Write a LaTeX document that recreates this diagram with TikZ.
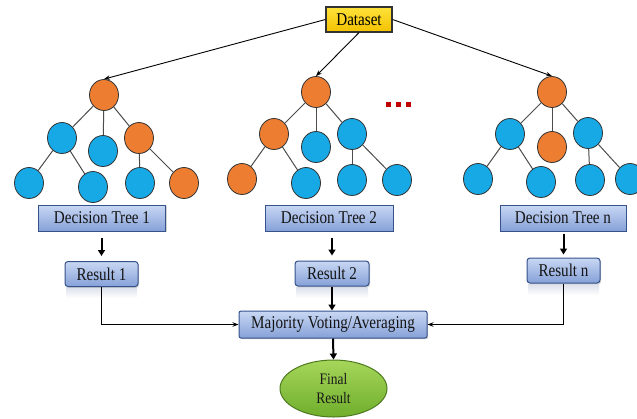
\documentclass[tikz,border=0pt]{standalone}
\usepackage{fontspec}
\setmainfont{Liberation Serif}[FakeStretch=0.84]
\usetikzlibrary{arrows.meta,shadows,shapes.geometric}
\definecolor{orng}{HTML}{ED7D31}
\definecolor{blu}{HTML}{16A9E6}
\definecolor{boxtop}{HTML}{C8D7F3}
\definecolor{boxbot}{HTML}{86A1D8}
\definecolor{boxdraw}{HTML}{36528A}
\definecolor{ylwtop}{HTML}{FFE23A}
\definecolor{ylwbot}{HTML}{F2C200}
\definecolor{grntop}{HTML}{A6D65A}
\definecolor{grnbot}{HTML}{6FAE2C}
\definecolor{dotred}{HTML}{C00000}
\tikzset{
  tnode/.style={ellipse, draw=black!80, line width=0.8pt, minimum width=29pt, minimum height=31pt, inner sep=0pt},
  onode/.style={tnode, fill=orng},
  bnode/.style={tnode, fill=blu},
  tedge/.style={draw=black!70, line width=1pt},
  txt/.style={font=\fontsize{18}{20}\selectfont, text=black!92},
  bluebox/.style={rectangle, draw=boxdraw, line width=1pt, top color=boxtop, bottom color=boxbot, txt, inner sep=0pt,
    drop shadow={opacity=0.35, shadow xshift=1.2pt, shadow yshift=-1.2pt}},
  dtbox/.style={bluebox, minimum height=26pt},
  resbox/.style={bluebox, rounded corners=3pt, minimum width=73pt, minimum height=25pt},
  refl/.style={top color=boxdraw!18, bottom color=white, draw=none},
  thinarrow/.style={draw=black, line width=0.9pt, -{Stealth[length=6pt,width=4.5pt]}},
  bigarrow/.style={draw=black, line width=2pt, -{Triangle[length=6pt,width=7pt]}},
}
\begin{document}
\begin{tikzpicture}[x=1pt, y=-1pt]
\useasboundingbox[fill=white] (0,0) rectangle (637,418);
% dataset
\node[rectangle, draw=black!80, line width=1.2pt, top color=ylwtop, bottom color=ylwbot, minimum width=66pt, minimum height=25pt, inner sep=0pt, font=\fontsize{18}{20}\selectfont,
  drop shadow={opacity=0.3, shadow xshift=1pt, shadow yshift=-1pt}] (ds) at (359,19.5) {Dataset};
% tree 1
\node[onode] (r1) at (104,95) {};
\node[bnode] (a1) at (62,138) {};
\node[bnode] (b1) at (103,151) {};
\node[onode] (c1) at (139,138) {};
\node[bnode] (d1) at (29,183) {};
\node[bnode] (e1) at (93,187) {};
\node[bnode] (f1) at (140,183) {};
\node[onode] (g1) at (184,183) {};
% tree 2
\node[onode] (r2) at (316,92) {};
\node[onode] (a2) at (274,134) {};
\node[bnode] (b2) at (316,147) {};
\node[bnode] (c2) at (352,134) {};
\node[onode] (d2) at (242,179) {};
\node[bnode] (e2) at (306,183) {};
\node[bnode] (f2) at (352,180) {};
\node[bnode] (g2) at (397,180) {};
% tree n
\node[onode] (r3) at (552,92) {};
\node[bnode] (a3) at (510,134) {};
\node[onode] (b3) at (552,147) {};
\node[bnode] (c3) at (588,133) {};
\node[bnode] (d3) at (478,179) {};
\node[bnode] (e3) at (541,182) {};
\node[bnode] (f3) at (590,180) {};
\node[bnode] (g3) at (630,179) {};
\foreach \t in {1,2,3}{
  \draw[tedge] (r\t) -- (a\t);
  \draw[tedge] (r\t) -- (b\t);
  \draw[tedge] (r\t) -- (c\t);
  \draw[tedge] (a\t) -- (d\t);
  \draw[tedge] (a\t) -- (e\t);
  \draw[tedge] (c\t) -- (f\t);
  \draw[tedge] (c\t) -- (g\t);
}
% dots
\foreach \x in {388,398,408}{
  \fill[dotred] (\x-2.5,101.5) rectangle (\x+2.5,106.5);
}
% dataset arrows
\draw[thinarrow] (ds.west) -- (r1.north);
\draw[thinarrow] (ds.south) -- (r2.north);
\draw[thinarrow] (ds.east) -- (r3.north);
% decision tree boxes
\node[dtbox, minimum width=127pt] (dt1) at (102,218) {Decision Tree 1};
\node[dtbox, minimum width=128pt] (dt2) at (329,218) {Decision Tree 2};
\node[dtbox, minimum width=126pt] (dt3) at (563,218) {Decision Tree n};
% reflections
\fill[refl] (66,287) rectangle (137,298);
\fill[refl] (296,287) rectangle (368,298);
\fill[refl] (528,284) rectangle (599,295);
% results
\node[resbox] (res1) at (101.5,274) {Result 1};
\node[resbox, minimum width=74pt] (res2) at (332,273.5) {Result 2};
\node[resbox] (res3) at (563.5,270.5) {Result n};
% majority
\node[bluebox, rounded corners=2pt, minimum width=188pt, minimum height=27pt] (maj) at (333,324.5) {Majority Voting/Averaging};
% final
\node[ellipse, draw=grnbot!70!black, line width=1pt, top color=grntop, bottom color=grnbot, minimum width=107pt, minimum height=57pt, inner sep=0pt,
  align=center, font=\fontsize{16}{19}\selectfont, text=black!90] (fin) at (333.5,388.5) {Final\\Result};
% arrows
\draw[bigarrow, shorten <=6pt, shorten >=5pt] (dt1.south -| res1.north) -- (res1.north);
\draw[bigarrow, shorten <=6pt, shorten >=5pt] (dt2.south -| res2.north) -- (res2.north);
\draw[bigarrow, shorten <=2pt, shorten >=3pt] (dt3.south -| res3.north) -- (res3.north);
\draw[bigarrow] (res2.south) -- (maj.north -| res2.south);
\draw[bigarrow] (maj.south) -- (fin.north);
\draw[thinarrow] (res1.south) |- (maj.west);
\draw[thinarrow] (res3.south) |- (maj.east);
\end{tikzpicture}
\end{document}
